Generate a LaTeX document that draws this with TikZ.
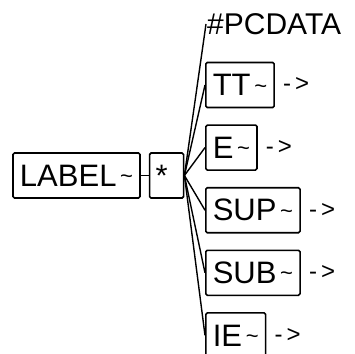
\documentclass[tikz,border=0pt]{standalone}
\usepackage{fontspec}
\setmainfont{Liberation Sans}
\usetikzlibrary{positioning}
\newcommand{\tld}{{\fontsize{22}{26}\selectfont\,\raisebox{2.5pt}{\textasciitilde}}}
\tikzset{
  elem/.style={draw,rectangle,rounded corners=1.5pt,line width=1.6pt,minimum height=45pt,inner xsep=7pt,inner ysep=0pt,font=\fontsize{31}{36}\selectfont},
  rep/.style={elem,text width=22pt,inner xsep=6pt,align=left},
  pcd/.style={inner sep=1pt,font=\fontsize{30}{36}\selectfont},
  more/.style={inner sep=0pt,font=\fontsize{24}{28}\selectfont},
  branch/.style={line width=1.4pt}
}

\begin{document}
\begin{tikzpicture}[x=1pt,y=-1pt]
\useasboundingbox (0,0) rectangle (355,353);

\node[elem,minimum width=127pt] (label) at (76.5,175.5) {LABEL\tld};
\node[rep,right=8pt of label] (star) {*};

\node[pcd,anchor=west] (pcdata) at (206,24) {\#PCDATA};
\node[elem,anchor=west] (tt) at (205,85) {TT\tld};
\node[elem,below=16pt of tt.south west,anchor=north west] (e) {E\tld};
\node[elem,below=16pt of e.south west,anchor=north west] (sup) {SUP\tld};
\node[elem,below=16pt of sup.south west,anchor=north west] (sub) {SUB\tld};
\node[elem,below=16pt of sub.south west,anchor=north west] (ie) {IE\tld};

\node[more,right=8pt of tt] (tt-more) {-\,>};
\node[more,right=8pt of e] (e-more) {-\,>};
\node[more,right=8pt of sup] (sup-more) {-\,>};
\node[more,right=8pt of sub] (sub-more) {-\,>};
\node[more,right=8pt of ie] (ie-more) {-\,>};

\draw[branch] (label) -- (star);
\draw[branch] (star.east) -- (pcdata.west);
\draw[branch] (star.east) -- (tt.west);
\draw[branch] (star.east) -- (e.west);
\draw[branch] (star.east) -- (sup.west);
\draw[branch] (star.east) -- (sub.west);
\draw[branch] (star.east) -- (ie.west);

\end{tikzpicture}
\end{document}
